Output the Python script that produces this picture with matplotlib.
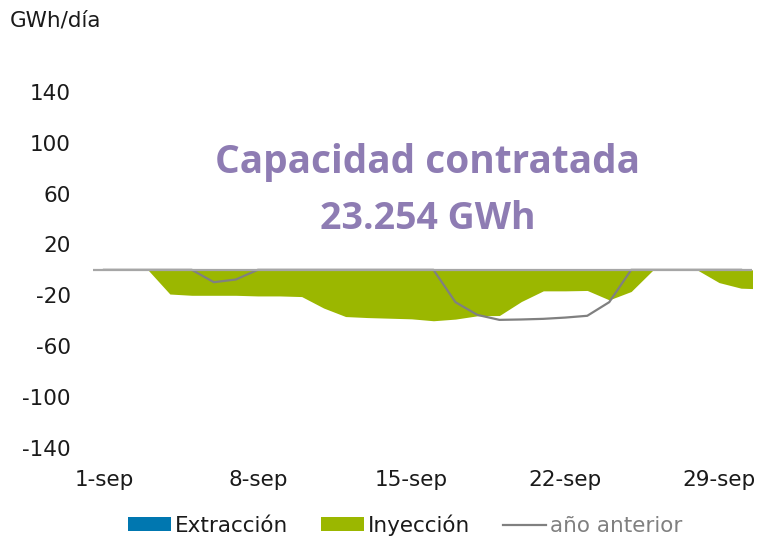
import numpy as np
import matplotlib
matplotlib.use("Agg")
import matplotlib.pyplot as plt
from matplotlib.patches import Patch
from matplotlib.lines import Line2D

# Daily series for September (GWh/day); the last value is 1-oct, clipped by the axis.
fechas = [f"{d}-sep" for d in range(1, 31)] + ["1-oct"]
extraccion = [0.0] * 31
inyeccion = [0, 0, 0, -19, -20, -20, -20, -20.5, -20.5, -21,
             -30, -36.7, -37.5, -38, -38.5, -40, -38.7, -36.1, -35.9, -24.9,
             -16.5, -16.5, -16.2, -23.6, -17, 0, 0, 0, -10, -14.4,
             -15]
anio_anterior = [0, 0, 0, 0, 0, -9.7, -7.6, 0, 0, 0,
                 0, 0, 0, 0, 0, 0, -25.4, -35.4, -39.3, -39,
                 -38.5, -37.5, -36.1, -25.4, 0, 0, 0, 0, 0, 0]
etiquetas_x = ["1-sep", "8-sep", "15-sep", "22-sep", "29-sep"]
etiquetas_y = [-140, -100, -60, -20, 20, 60, 100, 140]

capacidad = "23.254 GWh"

AZUL = "#0077B0"
VERDE = "#9BB700"
GRIS = "#808080"
MORADO = "#8E7CB3"
TEXTO = "#1A1A1A"

plt.rcParams["font.family"] = ["DejaVu Sans"]

fig = plt.figure(figsize=(7.6, 5.38), dpi=100)
ax = fig.add_axes([93 / 760, 1 - 448 / 538, 659 / 760, 356.3 / 538])

x = np.arange(len(fechas))
x2 = np.arange(len(anio_anterior))

ax.fill_between(x, 0, extraccion, color=AZUL, lw=0, zorder=2)
ax.fill_between(x, 0, inyeccion, color=VERDE, lw=0, zorder=2)
ax.plot(x2, anio_anterior, color=GRIS, lw=1.6, zorder=3)
ax.axhline(0, color="#A6A6A6", lw=1.6, zorder=4)

ax.set_xlim(-0.5, 29.5)
ax.set_ylim(-140, 140)
ax.set_yticks(etiquetas_y)
ax.set_yticklabels([str(v) for v in etiquetas_y])
ax.set_xticks([fechas.index(e) for e in etiquetas_x])
ax.set_xticklabels(etiquetas_x)
ax.tick_params(axis="both", length=0, labelsize=15.5, colors=TEXTO)
ax.tick_params(axis="y", pad=16)
ax.tick_params(axis="x", pad=16)
for s in ax.spines.values():
    s.set_visible(False)

fig.text(10 / 760, 1 - 21 / 538, "GWh/día", fontsize=15.5, color=TEXTO,
         ha="left", va="center")

ax.text(0.508, 0.800, "Capacidad contratada", transform=ax.transAxes,
        ha="center", va="center", fontsize=28, fontweight="bold",
        family=["Open Sans", "DejaVu Sans"], color=MORADO)
ax.text(0.508, 0.643, capacidad, transform=ax.transAxes,
        ha="center", va="center", fontsize=27, fontweight="bold",
        family=["Open Sans", "DejaVu Sans"], color=MORADO)

handles = [Patch(facecolor=AZUL, edgecolor="none"),
           Patch(facecolor=VERDE, edgecolor="none"),
           Line2D([], [], color=GRIS, lw=1.6)]
leg = fig.legend(handles, ["Extracción", "Inyección", "año anterior"],
                 loc="center", bbox_to_anchor=(0.533, 1 - 525 / 538),
                 ncol=3, frameon=False, fontsize=15.5, handlelength=2.0,
                 handleheight=0.6, handletextpad=0.2, columnspacing=1.5)
for t, c in zip(leg.get_texts(), [TEXTO, TEXTO, GRIS]):
    t.set_color(c)

fig.savefig("out.png", dpi=100)
